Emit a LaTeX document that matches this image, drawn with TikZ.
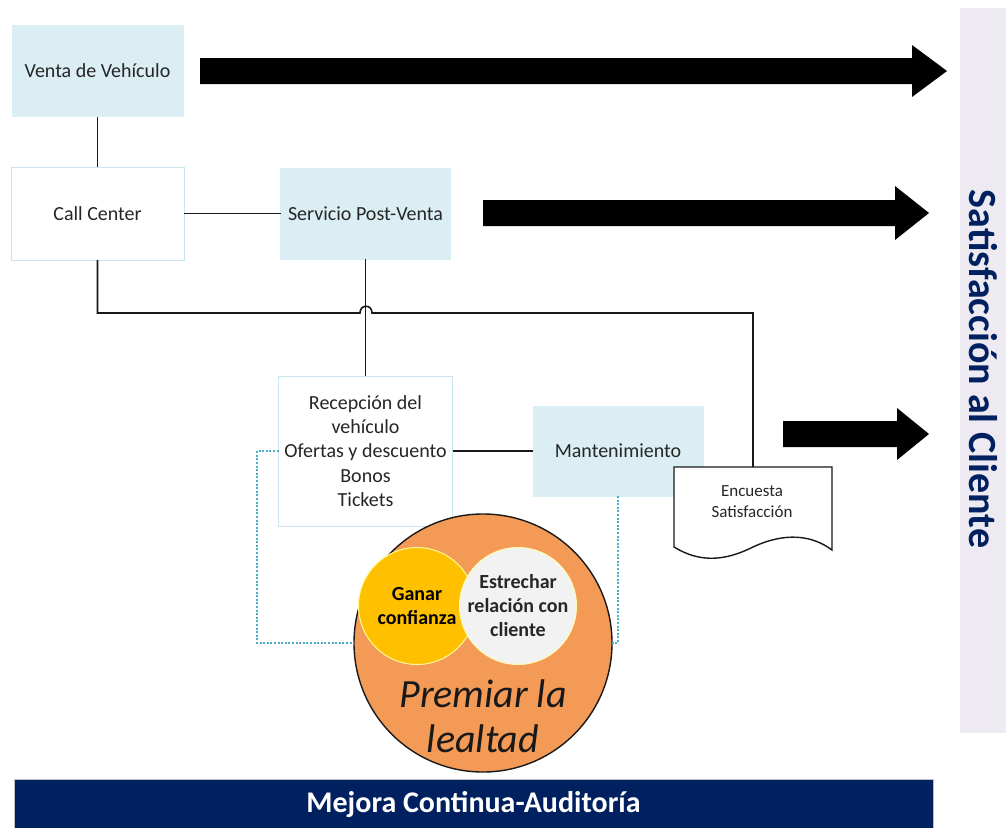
\documentclass[tikz,border=0pt]{standalone}
\usepackage{fontspec}
\setmainfont{Carlito}
\definecolor{lblue}{HTML}{DAEEF3}
\definecolor{lborder}{HTML}{C9E5EE}
\definecolor{navy}{HTML}{002060}
\definecolor{barbg}{HTML}{EDEAF1}
\definecolor{orangec}{HTML}{F39B56}
\definecolor{yellowc}{HTML}{FFC000}
\definecolor{grayc}{HTML}{F2F2F2}
\definecolor{dashc}{HTML}{4BACC6}
\definecolor{txt}{HTML}{262626}
\newcommand{\myfs}[2]{\fontsize{#1}{#2}\selectfont}
\begin{document}
\begin{tikzpicture}[x=1pt,y=-1pt,
  every node/.style={inner sep=0pt, outer sep=0pt},
  fillbox/.style={rectangle, fill=lblue, draw=lblue, line width=1pt, align=center, text=txt, font=\myfs{20}{24.4}},
  whitebox/.style={rectangle, fill=white, draw=lborder, line width=1pt, align=center, text=txt, font=\myfs{20}{24.4}},
  conn/.style={draw=black!90, line width=1.6pt},
  dotline/.style={draw=dashc, line width=1.3pt, dash pattern=on 2pt off 1.6pt},
  bigarrow/.style={fill=black, draw=none},
]
\useasboundingbox (0,0) rectangle (1006,827);
\fill[white] (0,0) rectangle (1006,827);

% right bar and bottom bar
\node[fill=barbg, minimum width=46, minimum height=725] (rbar) at (983,370.5) {};
\node[rotate=-90, text=navy, font=\bfseries\myfs{40}{46}] (sat) at (983,369) {Satisfacción al Cliente};
\node[fill=navy, draw=black!25, line width=0.8pt, minimum width=919, minimum height=50, anchor=north west, text=white, font=\bfseries\myfs{30}{32}] (mejora) at (14,779) {Mejora Continua-Auditoría};

% block arrows
\fill[bigarrow] (200,58) -- (912,58) -- (912,45) -- (947,71) -- (912,97) -- (912,84) -- (200,84) -- cycle;
\fill[bigarrow] (483,200) -- (895,200) -- (895,186) -- (929,213) -- (895,240) -- (895,226) -- (483,226) -- cycle;
\fill[bigarrow] (783,421) -- (897,421) -- (897,408) -- (929,434) -- (897,460) -- (897,447) -- (783,447) -- cycle;

% boxes
\node[fillbox, minimum width=171, minimum height=91] (venta) at (97.5,71) {Venta de Vehículo};
\node[whitebox, minimum width=173, minimum height=93] (cc) at (97.5,213.5) {Call Center};
\node[fillbox, minimum width=170, minimum height=91] (post) at (365.5,213.5) {Servicio Post-Venta};
\node[whitebox, minimum width=174, minimum height=150] (rec) at (365.5,451) {Recepción del\\vehículo\\Ofertas y descuento\\Bonos\\Tickets};
\node[fillbox, minimum width=170, minimum height=90] (mant) at (618,451) {Mantenimiento};

% document shape
\coordinate (enctop) at (753,467);
\draw[fill=white, draw=black!90, line width=1.4pt] (674,467) -- (832,467) -- (832,550)
  .. controls (812,535) and (785,532) .. (753,547)
  .. controls (725,561) and (700,563) .. (674,547) -- cycle;
\node[align=center, text=txt, font=\myfs{17}{21}] (enc) at (752,502) {Encuesta\\Satisfacción};

% connectors
\draw[conn] (venta.south) -- (cc.north);
\draw[conn] (cc.east) -- (post.west);
\draw[conn] (post.south) -- (rec.north);
\draw[conn] (rec.east) -- (mant.west);
\coordinate (h1) at (360,313);
\coordinate (h2) at (372,313);
\draw[conn] (cc.south) -- (cc.south |- h1) -- (h1) .. controls (360,304) and (372,304) .. (h2) -- (enctop |- h2) -- (enctop);

% circles
\node[circle, fill=orangec, draw=black!90, line width=1.4pt, minimum size=258] (big) at (483,643) {};
\draw[dotline] (rec.west) -- (257,451) -- (257,643) -- (big.west);
\draw[dotline] (mant.south) -- (618,643) -- (big.east);
\node[circle, fill=yellowc, draw=yellow!40, line width=1pt, minimum size=117, align=center, font=\bfseries\myfs{20}{24}] (ganar) at (417,606) {Ganar\\confianza};
\node[circle, fill=grayc, draw=yellow!30, line width=1pt, minimum size=117] (estr) at (518,606) {};
\node[align=center, text=txt, font=\bfseries\myfs{20}{24}] (estrt) at (518,606) {Estrechar\\relación con\\cliente};
\node[align=center, text=black!90, font=\itshape\myfs{40}{45}] (prem) at (483,716) {Premiar la\\lealtad};
\end{tikzpicture}
\end{document}
